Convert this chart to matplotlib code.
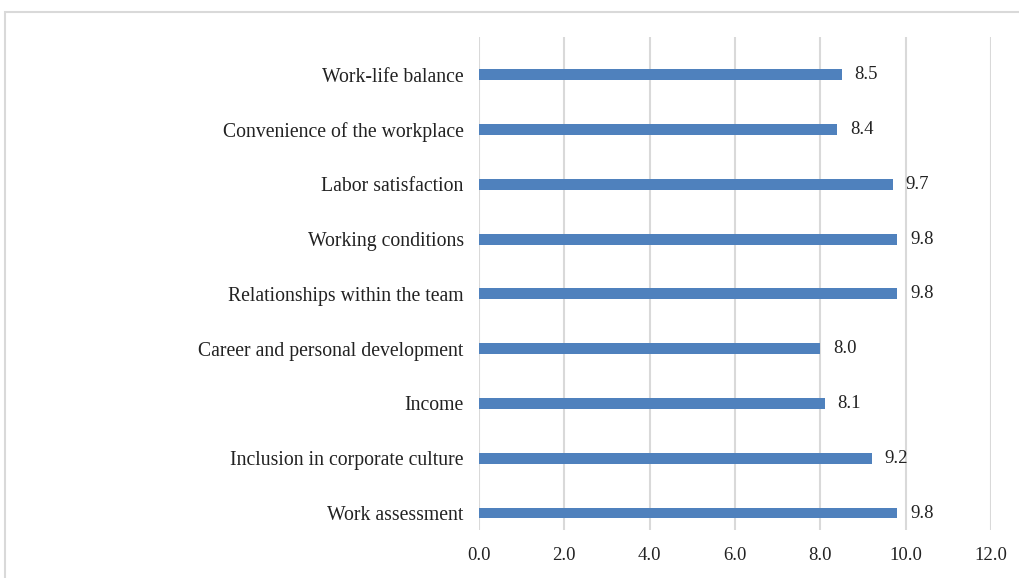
import matplotlib.pyplot as plt
from matplotlib.patches import Rectangle

categories = ["Work assessment", "Inclusion in corporate culture", "Income",
              "Career and personal development", "Relationships within the team",
              "Working conditions", "Labor satisfaction",
              "Convenience of the workplace", "Work-life balance"]
values = [9.8, 9.2, 8.1, 8.0, 9.8, 9.8, 9.7, 8.4, 8.5]
xticks = [0, 2, 4, 6, 8, 10, 12]

plt.rcParams['font.family'] = ['Liberation Serif', 'DejaVu Serif']

fig = plt.figure(figsize=(10.19, 5.78), dpi=100)
ax = fig.add_axes([479/1019, 1 - 530/578, (991-479)/1019, (530-37)/578])

pos = list(range(len(categories)))
ax.barh(pos, values, height=0.2, color="#4F81BD", zorder=3)
for p, v in zip(pos, values):
    ax.text(v + 0.3, p, f"{v:.1f}", va="center", ha="left", fontsize=13.5, color="#222222")

ax.set_xlim(0, 12)
ax.set_ylim(-0.31, 8.69)
ax.set_xticks(xticks)
ax.set_xticklabels([f"{t:.1f}" for t in xticks], fontsize=13.5, color="#222222")
ax.set_yticks(pos)
ax.set_yticklabels(categories, fontsize=14.2, color="#222222")
ax.tick_params(length=0, axis="y", pad=11)
ax.tick_params(length=0, axis="x", pad=12)
ax.grid(axis="x", color="#D9D9D9", lw=1.5, zorder=0)
for s in ax.spines.values():
    s.set_visible(False)

fig.patches.append(Rectangle((5/1019, -0.05), 1.1, 1 - 12/578 + 0.05,
                             transform=fig.transFigure, fill=False,
                             edgecolor="#D9D9D9", lw=1.5))

fig.savefig("out.png", dpi=100)
